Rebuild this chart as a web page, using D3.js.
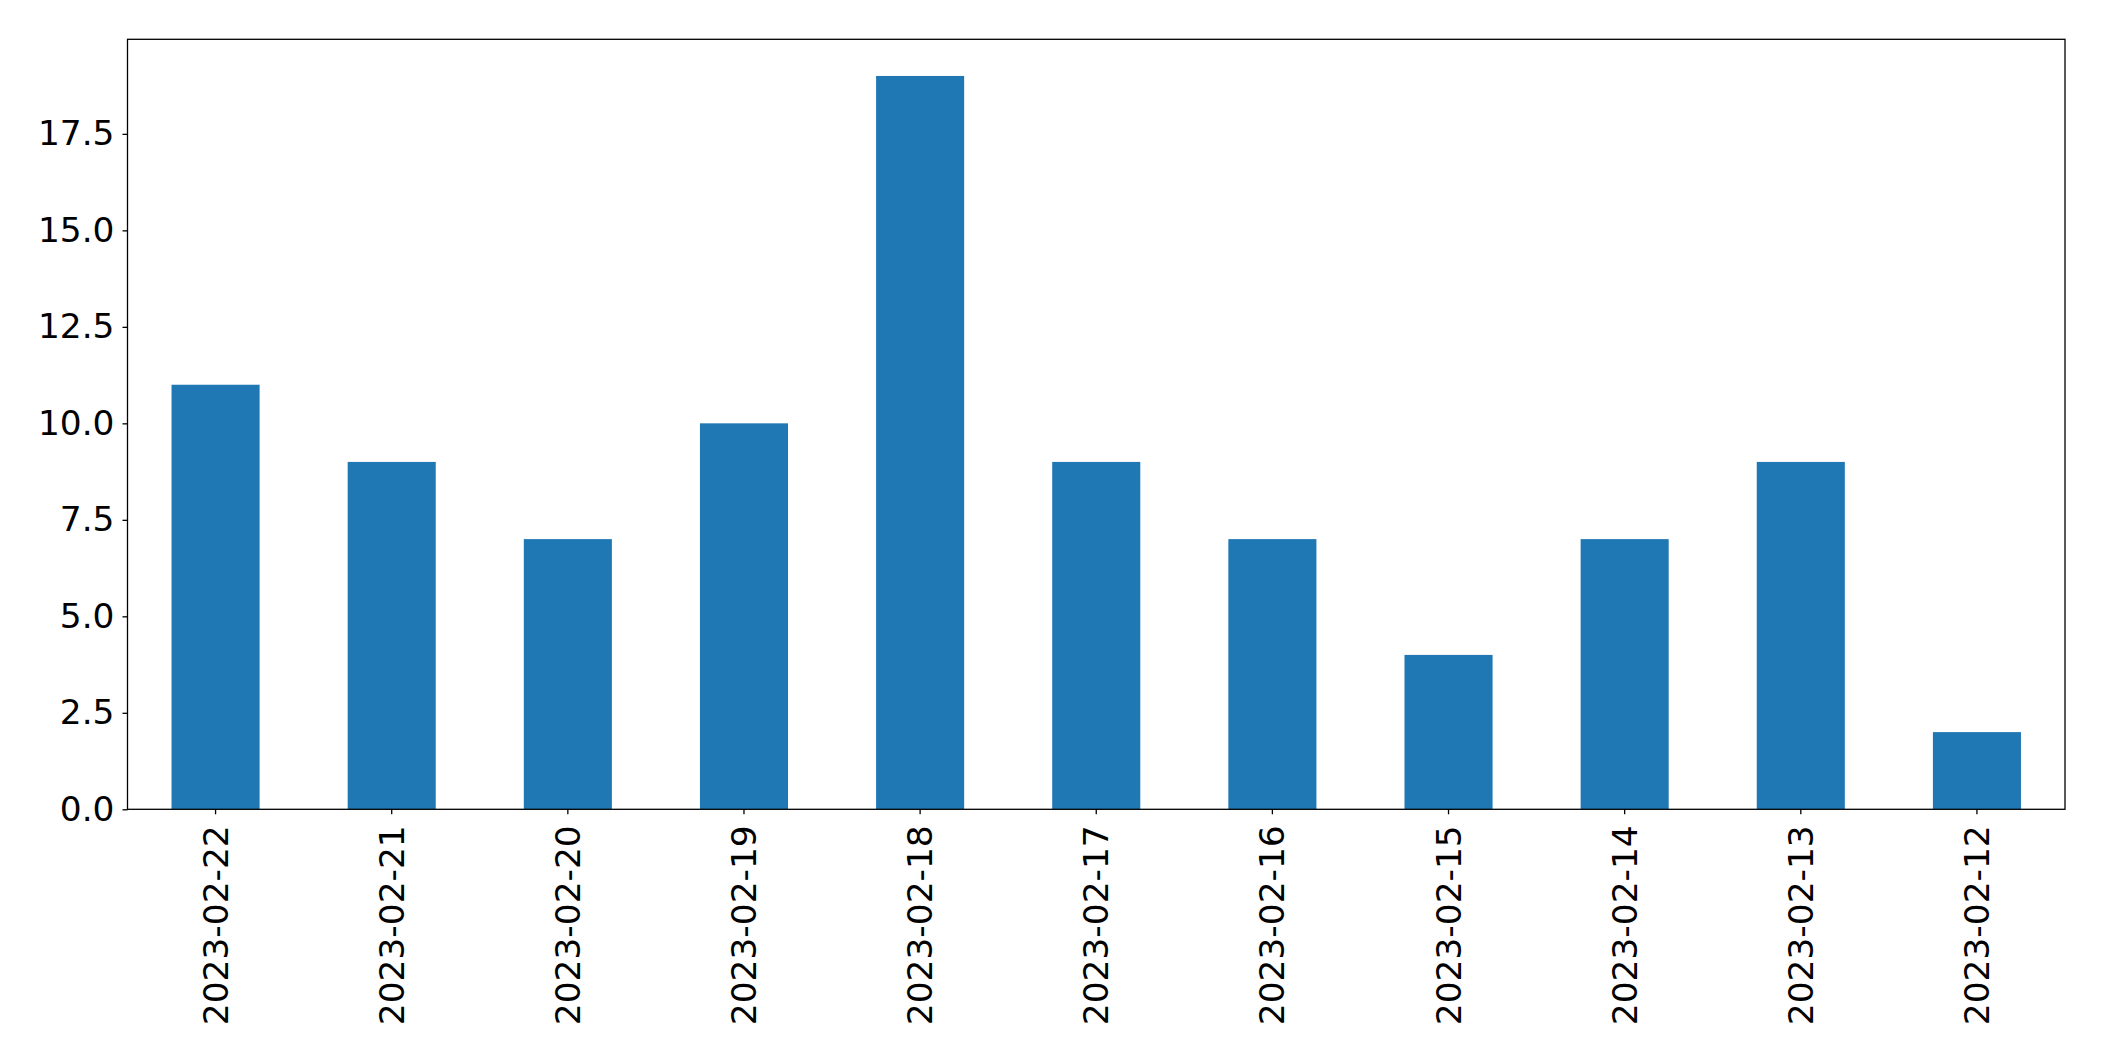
<!DOCTYPE html>
<html>
<head>
<meta charset="utf-8">
<script src="https://cdn.jsdelivr.net/npm/d3@7"></script>
<style>
html,body{margin:0;padding:0;background:#fff;}
svg{display:block;}
</style>
</head>
<body>
<script>
const categories = ["2023-02-22","2023-02-21","2023-02-20","2023-02-19","2023-02-18","2023-02-17","2023-02-16","2023-02-15","2023-02-14","2023-02-13","2023-02-12"];
const values = [11, 9, 7, 10, 19, 9, 7, 4, 7, 9, 2];
const yTicks = [0, 2.5, 5, 7.5, 10, 12.5, 15, 17.5];

const W = 2104, H = 1061;
const m = {left: 127.5, right: 2104 - 2065, top: 39.3, bottom: 1061 - 809.3};
const svg = d3.select("body").append("svg").attr("width", W).attr("height", H);
const font = "'DejaVu Sans', sans-serif";
const fs = 34.4;

const x = d3.scaleBand().domain(categories).range([m.left, W - m.right]).paddingInner(0.5).paddingOuter(0.25);
const y = d3.scaleLinear().domain([0, d3.max(values) * 1.05]).range([H - m.bottom, m.top]);

svg.append("g").selectAll("rect").data(values).join("rect")
  .attr("x", (d, i) => x(categories[i]))
  .attr("width", x.bandwidth())
  .attr("y", d => y(d))
  .attr("height", d => y(0) - y(d))
  .attr("fill", "#1f77b4");

const yAxis = svg.append("g").attr("transform", `translate(${m.left},0)`)
  .call(d3.axisLeft(y).tickValues(yTicks).tickFormat(d3.format(".1f")).tickSize(5).tickPadding(8));
yAxis.select(".domain").remove();
yAxis.selectAll("text").attr("font-family", font).attr("font-size", fs).attr("fill", "#000");
yAxis.selectAll("line").attr("stroke", "#000").attr("stroke-width", 1.3);

const xAxis = svg.append("g").attr("transform", `translate(0,${H - m.bottom})`)
  .call(d3.axisBottom(x).tickSize(5).tickPadding(0));
xAxis.select(".domain").remove();
xAxis.selectAll("line").attr("stroke", "#000").attr("stroke-width", 1.3);
xAxis.selectAll("text")
  .attr("font-family", font).attr("font-size", fs).attr("fill", "#000")
  .attr("text-anchor", "end")
  .attr("dy", null)
  .attr("dominant-baseline", "central")
  .attr("y", 0)
  .attr("transform", "translate(0,16) rotate(-90)");

svg.append("rect")
  .attr("x", m.left).attr("y", m.top)
  .attr("width", W - m.right - m.left).attr("height", H - m.bottom - m.top)
  .attr("fill", "none").attr("stroke", "#000").attr("stroke-width", 1.3);
</script>
</body>
</html>
